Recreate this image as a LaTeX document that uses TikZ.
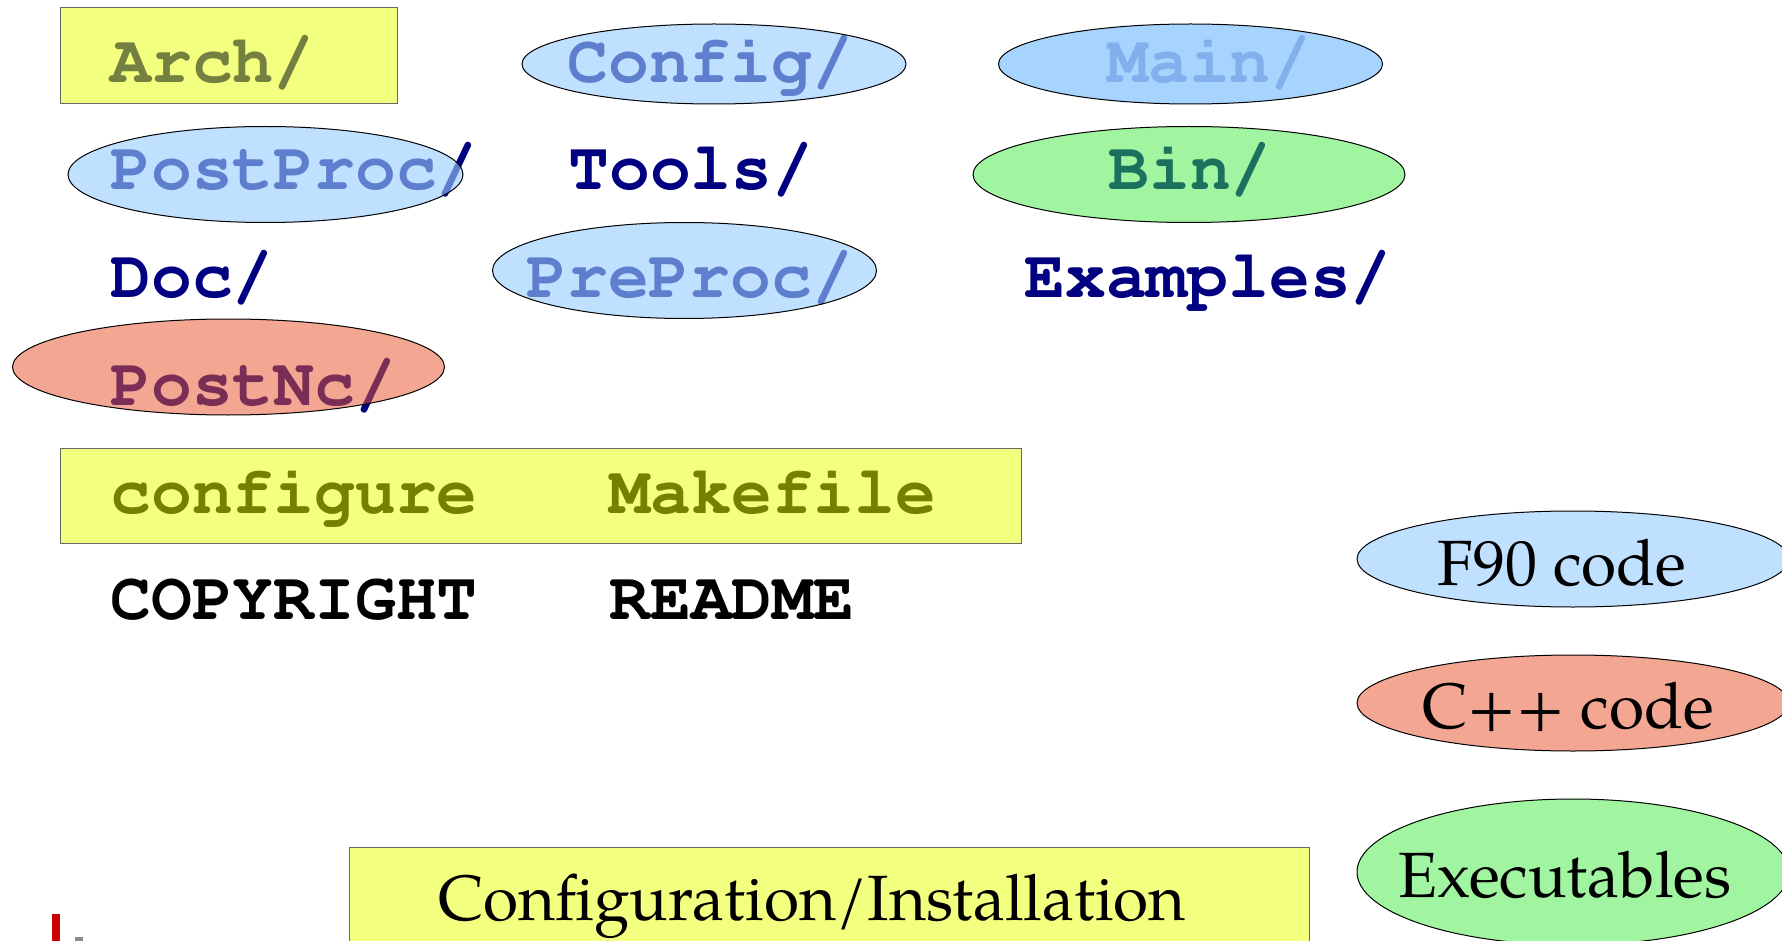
\documentclass[tikz,border=0pt]{standalone}
\usepackage{fontspec}
\usetikzlibrary{shapes.geometric}

\newcommand\dirfont{\fontencoding{T1}\fontfamily{pcr}\bfseries\selectfont}
\newfontfamily\keyfont{TeX Gyre Pagella}

\definecolor{dirnavy}{RGB}{0,0,128}
\definecolor{f90blue}{RGB}{153,205,255}
\definecolor{cppred}{RGB}{232,87,49}
\definecolor{exegreen}{RGB}{58,235,58}
\definecolor{cfgyellow}{RGB}{231,255,0}
\definecolor{logored}{RGB}{204,0,0}

\begin{document}
\begin{tikzpicture}[x=0.5pt, y=-0.5pt]

\tikzset{%
    dir/.style={anchor=base west, inner sep=0pt, text=dirnavy,
        font=\fontsize{34pt}{34pt}\dirfont},
    topfile/.style={dir, text=black},
    blob/.style args={#1 and #2}{ellipse, draw=black, line width=0.5pt,
        inner sep=0pt, minimum width=#1, minimum height=#2},
    f90/.style={fill=f90blue, fill opacity=0.62},
    cpp/.style={fill=cppred, fill opacity=0.53},
    exe/.style={fill=exegreen, fill opacity=0.48},
    cfgbox/.style={rectangle, draw=black!60, line width=0.5pt, inner sep=0pt,
        fill=cfgyellow, fill opacity=0.5},
    keytext/.style={anchor=base, inner sep=0pt,
        font=\keyfont\fontsize{32pt}{32pt}\selectfont}
}

\useasboundingbox (0,0) rectangle (1782,941);
\clip (0,0) rectangle (1782,941);

% directory and file names, under the coloured blobs
\foreach \dirname/\x/\y in {Arch/110/83, Config/567/83, Main/1107/83,
        PostProc/110/190, Tools/568/190, Bin/1108/190,
        Doc/110/298, PreProc/526/298, Examples/1024/298,
        PostNc/110/405}{
    \node[dir] (\dirname) at (\x,\y) {\dirname/};
}
\node[topfile] (configure) at (110,513) {configure};
\node[topfile] (makefile) at (609,513) {Makefile};
\node[topfile] (copyright) at (110,619) {COPYRIGHT};
\node[topfile] (readme) at (609,619) {README};

% blobs
\node[cfgbox, minimum width=168.5pt, minimum height=48pt] (arch box) at (228.5,56) {};
\node[blob={192pt and 40pt}, f90] (config blob) at (714,64) {};
\node[blob={192pt and 40pt}, f90, fill opacity=0.86] (main blob) at (1190.5,64) {};
\node[blob={197.5pt and 48pt}, f90] (postproc blob) at (265.5,174.5) {};
\node[blob={216pt and 48pt}, exe] (bin blob) at (1189,174.5) {};
\node[blob={192pt and 48pt}, f90] (preproc blob) at (684.5,270.5) {};
\node[blob={216pt and 48pt}, cpp] (postnc blob) at (228.5,367) {};
\node[cfgbox, minimum width=480.5pt, minimum height=47.5pt] (configure box) at (540.5,495.5) {};

% key
\node[blob={216pt and 48pt}, f90] (f90 key) at (1573,559) {};
\node[blob={216pt and 48pt}, cpp] (cpp key) at (1573,703) {};
\node[blob={216pt and 73pt}, exe] (exe key) at (1573,872) {};
\node[keytext] (f90 label) at (1562,585) {F90 code};
\node[keytext] (cpp label) at (1568,728) {C++ code};
\node[keytext] (exe label) at (1565,897) {Executables};

\node[cfgbox, minimum width=480pt, minimum height=48pt] (install box) at (829,895) {};
\node[keytext] (install) at (812,920) {Configuration/Installation};

\fill[logored] (52,914) rectangle (60,941);
\fill[black!45] (75,937) rectangle (83,941);

\end{tikzpicture}
\end{document}
